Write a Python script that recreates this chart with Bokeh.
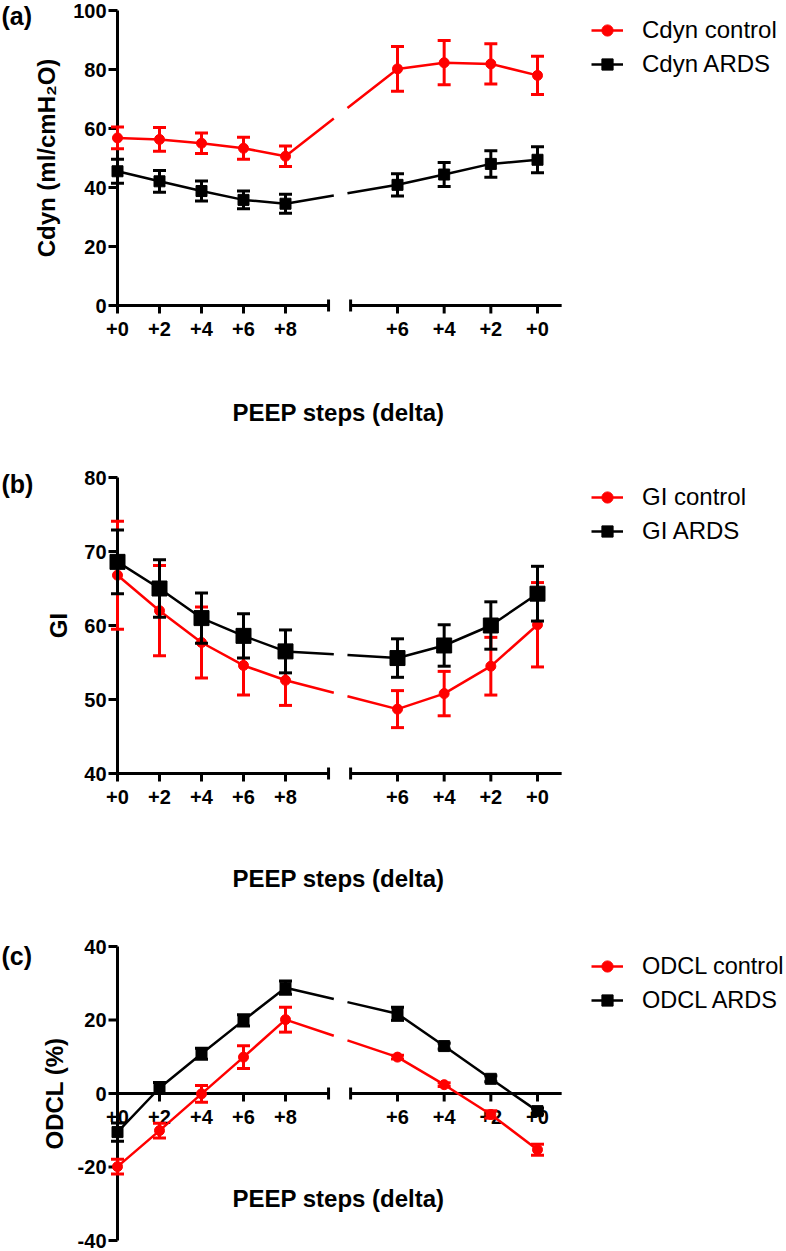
import math
from bokeh.plotting import figure
from bokeh.layouts import column
from bokeh.models import Range1d, Legend, LegendItem
from bokeh.embed import file_html
from bokeh.resources import INLINE
from bokeh.core.properties import value

# ---------------- data ----------------
steps = ["+0", "+2", "+4", "+6", "+8", "+6", "+4", "+2", "+0"]

cdyn_control = [56.8, 56.3, 55.0, 53.3, 50.6, 80.2, 82.3, 81.9, 78.0]
cdyn_control_sd = [3.7, 4.0, 3.5, 3.7, 3.5, 7.6, 7.5, 6.8, 6.5]
cdyn_ards = [45.5, 42.1, 38.8, 35.8, 34.5, 40.9, 44.4, 48.0, 49.4]
cdyn_ards_sd = [4.1, 3.7, 3.4, 3.0, 3.2, 3.8, 4.1, 4.5, 4.4]

gi_control = [66.8, 62.0, 57.7, 54.6, 52.6, 48.7, 50.8, 54.5, 60.1]
gi_control_sd = [7.3, 6.1, 4.8, 4.0, 3.4, 2.5, 3.0, 3.9, 5.7]
gi_ards = [68.6, 65.0, 61.0, 58.6, 56.5, 55.6, 57.3, 60.0, 64.3]
gi_ards_sd = [4.3, 3.9, 3.4, 3.0, 2.9, 2.6, 2.8, 3.2, 3.7]

odcl_control = [-19.9, -10.1, -0.1, 9.9, 20.1, 9.9, 2.4, -5.7, -15.3]
odcl_control_sd = [2.0, 2.0, 2.3, 3.1, 3.4, 0.5, 0.5, 1.0, 1.5]
odcl_ards = [-10.5, 1.5, 10.8, 19.9, 28.8, 21.7, 12.9, 4.0, -4.8]
odcl_ards_sd = [2.5, 1.5, 1.5, 1.5, 1.8, 1.8, 0.8, 0.8, 0.8]

cdyn_ticks = [0, 20, 40, 60, 80, 100]
gi_ticks = [40, 50, 60, 70, 80]
odcl_ticks = [-40, -20, 0, 20, 40]

# ---------------- layout constants ----------------
W = 786
X0_PX = 117          # pixel of x = 0
PX_PER_X = 21.0
N_LEFT = 5
RIGHT_STEP = 20.0 / 9.0
LEFT_END, RIGHT_START, RIGHT_END = 10.05, 11.1, 21.15
GAP_LO, GAP_HI = 10.3, 10.95

FONT = value("Liberation Sans")
RED = "#ff0000"
BLACK = "#000000"


def x_positions():
    xs = [2.0 * i for i in range(N_LEFT)]
    nr = len(steps) - N_LEFT
    xs += [20.0 - (nr - 1 - j) * RIGHT_STEP for j in range(nr)]
    return xs


XS = x_positions()


def xdat(px):
    return (px - X0_PX) / PX_PER_X


def broken_line(xs, ys):
    x8, y8 = xs[N_LEFT - 1], ys[N_LEFT - 1]
    x6, y6 = xs[N_LEFT], ys[N_LEFT]

    def f(xb):
        return y8 + (y6 - y8) * (xb - x8) / (x6 - x8)

    bx = xs[:N_LEFT] + [GAP_LO, float("nan"), GAP_HI] + xs[N_LEFT:]
    by = ys[:N_LEFT] + [f(GAP_LO), float("nan"), f(GAP_HI)] + ys[N_LEFT:]
    return bx, by


def make_panel(top, H, va, ra, vb, rb, ticks, axis_y, ytitle, ytitle_x,
               plabel, plabel_y, xtitle_off, series, legend_y, legend_x,
               legend_font):
    pa, pb = ra - top, rb - top
    scale = (pb - pa) / (va - vb)
    y_top = va + pa / scale
    y_bot = va - (H - pa) / scale

    def ydat(py):
        return va - (py - top - pa) / scale

    p = figure(width=W, height=H, output_backend="svg", toolbar_location=None,
               x_range=Range1d(-X0_PX / PX_PER_X, (W - X0_PX) / PX_PER_X),
               y_range=Range1d(y_bot, y_top),
               x_axis_location=None, y_axis_location=None, min_border=0,
               outline_line_color=None, background_fill_color="white",
               border_fill_color="white")
    p.grid.visible = False

    ymin, ymax = min(ticks), max(ticks)
    # y axis
    p.segment(x0=[0], y0=[ymin], x1=[0], y1=[ymax], line_width=3, color=BLACK)
    p.ray(x=[0] * len(ticks), y=ticks, length=9, length_units="screen",
          angle=math.pi, line_width=3, color=BLACK)
    p.text(x=[0] * len(ticks), y=ticks, text=[str(t) for t in ticks], x_offset=-11,
           text_align="right", text_baseline="middle", text_font=FONT,
           text_font_style="bold", text_font_size="20px", text_color=BLACK)
    # broken x axis
    p.segment(x0=[0, RIGHT_START], y0=[axis_y] * 2, x1=[LEFT_END, RIGHT_END],
              y1=[axis_y] * 2, line_width=3, color=BLACK)
    p.scatter(x=[LEFT_END, RIGHT_START], y=[axis_y] * 2, marker="dash",
              angle=math.pi / 2, size=12, line_width=3, color=BLACK)
    p.ray(x=XS, y=[axis_y] * len(XS), length=8, length_units="screen",
          angle=-math.pi / 2, line_width=3, color=BLACK)
    p.text(x=XS, y=[axis_y] * len(XS), text=steps, y_offset=23,
           text_align="center", text_baseline="middle", text_font=FONT,
           text_font_style="bold", text_font_size="20px", text_color=BLACK)
    # titles
    p.text(x=[xdat(338)], y=[axis_y], y_offset=xtitle_off,
           text=["PEEP steps (delta)"], text_align="center",
           text_baseline="middle", text_font=FONT, text_font_style="bold",
           text_font_size="24px", text_color=BLACK)
    p.text(x=[xdat(ytitle_x)], y=[(ymin + ymax) / 2.0], angle=math.pi / 2,
           text=[ytitle], text_align="center", text_baseline="middle",
           text_font=FONT, text_font_style="bold", text_font_size="24px",
           text_color=BLACK)
    p.text(x=[xdat(1)], y=[ydat(plabel_y)], text=[plabel], text_align="left",
           text_baseline="middle", text_font=FONT, text_font_style="bold",
           text_font_size="25px", text_color=BLACK)

    items = []
    for name, mean, sd, color, marker, msize in series:
        lo = [m - s for m, s in zip(mean, sd)]
        hi = [m + s for m, s in zip(mean, sd)]
        p.segment(x0=XS, y0=lo, x1=XS, y1=hi, line_width=3, color=color)
        p.scatter(x=XS + XS, y=lo + hi, marker="dash", size=13, line_width=3,
                  color=color)
        bx, by = broken_line(XS, mean)
        lr = p.line(bx, by, line_width=2.5, color=color)
        mr = p.scatter(XS, mean, marker=marker, size=msize, color=color)
        items.append(LegendItem(label=name, renderers=[lr, mr]))

    leg_top = legend_y - top - 14
    leg_bottom = leg_top + 62
    legend = Legend(items=items, location=(legend_x, H - leg_bottom),
                    border_line_color=None, background_fill_alpha=0,
                    label_text_font="Liberation Sans",
                    label_text_font_size=legend_font, label_text_color=BLACK,
                    glyph_width=32, glyph_height=28, label_height=28,
                    label_standoff=19, spacing=6, padding=0, margin=0)
    p.add_layout(legend)
    return p


pa = make_panel(0, 440, 100, 10, 0, 305, cdyn_ticks, 0, "Cdyn (ml/cmH\u2082O)", 46,
                "(a)", 15, 107,
                [("Cdyn control", cdyn_control, cdyn_control_sd, RED, "circle", 10),
                 ("Cdyn ARDS", cdyn_ards, cdyn_ards_sd, BLACK, "square", 11)],
                30, 591, "24px")
pb = make_panel(440, 460, 80, 477, 40, 773, gi_ticks, 40, "GI", 58,
                "(b)", 483, 105,
                [("GI control", gi_control, gi_control_sd, RED, "circle", 10),
                 ("GI ARDS", gi_ards, gi_ards_sd, BLACK, "square", 15)],
                497, 591, "24px")
pc = make_panel(900, 351, 40, 946, -40, 1240, odcl_ticks, 0, "ODCL (%)", 54,
                "(c)", 955, 105,
                [("ODCL control", odcl_control, odcl_control_sd, RED, "circle", 10),
                 ("ODCL ARDS", odcl_ards, odcl_ards_sd, BLACK, "square", 11)],
                966, 591, "23.5px")

layout = column(pa, pb, pc, spacing=0)
open("out.html", "w").write(file_html(layout, INLINE))
